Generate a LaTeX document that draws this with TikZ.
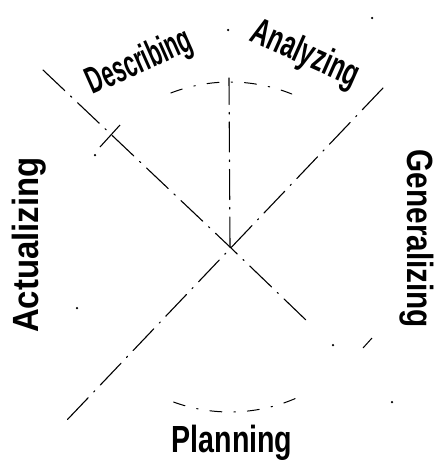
\documentclass[tikz,border=0pt]{standalone}
\usepackage{fontspec}
\newfontfamily\handfont{Liberation Sans}
\begin{document}
\begin{tikzpicture}[x=1pt,y=-1pt,
  axisline/.style={line width=1.1pt, line cap=round, dash pattern=on 30pt off 8pt on 1.5pt off 8pt},
  ring/.style={line width=1pt, line cap=round, dash pattern=on 12pt off 12pt on 1.5pt off 12pt},
  speck/.style={fill=black, circle, inner sep=0pt, minimum size=2.5pt},
  lab/.style={font=\handfont\fontsize{27}{27}\selectfont\bfseries, inner sep=0pt}]
\useasboundingbox (0,0) rectangle (443,463);
% centre and axis ends
\coordinate (C) at (230,247);
\coordinate (UL) at (43,70);
\coordinate (LR) at (308,322);
\coordinate (UR) at (383,88);
\coordinate (LL) at (67,420);
\coordinate (T) at (229,78);
\draw[axisline] (UL) -- (C) -- (LR);
\draw[axisline] (UR) -- (LL);
\draw[axisline] (C) -- (T);
% sparse circle pieces
\draw[ring] (C) ++(-111:165) arc[start angle=-111, end angle=-68, radius=165];
\draw[ring] (C) ++(110:165) arc[start angle=110, end angle=63, radius=165];
% small cross on the upper-left diagonal
\coordinate (X1) at (100,147);
\coordinate (X2) at (120,125);
\draw[line width=1.1pt] (X1) -- (X2);
\coordinate (K1) at (363,348);
\coordinate (K2) at (372,338);
\draw[line width=1pt] (K1) -- (K2);
% specks
\node[speck] (s1) at (228,30) {};
\node[speck] (s3) at (372,18) {};
\node[speck] (s4) at (77,308) {};
\node[speck] (s5) at (95,155) {};
\node[speck] (s6) at (333,345) {};
\node[speck] (s7) at (392,402) {};
% labels
\node[lab, rotate=24] (desc) at (140,63) {\scalebox{0.8}[1.4]{Describing}};
\node[lab, rotate=-24] (anal) at (305,55) {\scalebox{0.9}[1.4]{Analyzing}};
\node[lab, rotate=-90] (gen) at (417,239) {\scalebox{1.1}[1.35]{Generalizing}};
\node[lab, rotate=90] (act) at (29,245) {\scalebox{1.22}[1.35]{Actualizing}};
\node[lab] (plan) at (232,443) {\scalebox{1.06}[1.4]{Planning}};
\end{tikzpicture}
\end{document}
